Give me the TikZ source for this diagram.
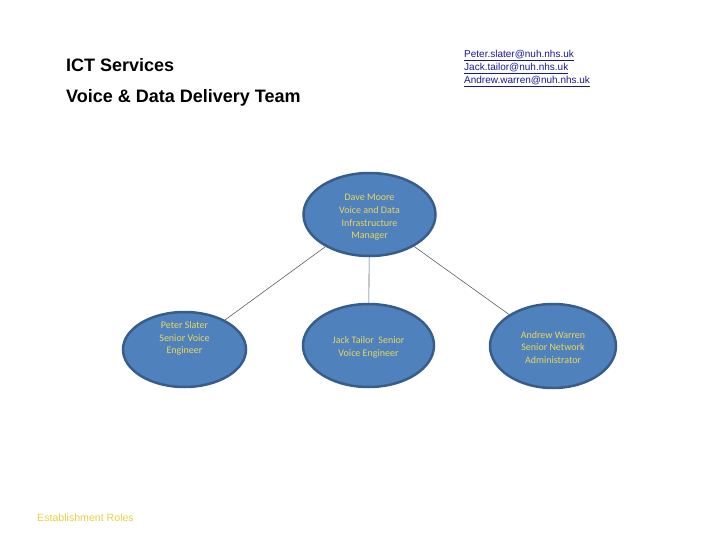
\documentclass[tikz,border=0pt]{standalone}
\usepackage{fontspec}
\setmainfont{Liberation Sans}
\newfontfamily\calib{Carlito}
\usetikzlibrary{shapes.geometric}
\definecolor{ellfill}{RGB}{79,129,189}
\definecolor{elldraw}{RGB}{56,93,138}
\definecolor{elltext}{RGB}{236,214,92}
\definecolor{roles}{RGB}{232,208,70}
\definecolor{mailblue}{RGB}{24,24,150}
\definecolor{conn}{RGB}{85,95,105}
\tikzset{
  role/.style={ellipse, draw=elldraw, fill=ellfill, line width=2.5pt, inner sep=0pt},
  roletext/.style={font=\calib\fontsize{10}{12.7}\selectfont, text=elltext, align=center, inner sep=0pt},
  link/.style={draw=conn, line width=0.6pt},
  head/.style={font=\bfseries\fontsize{18}{20}\selectfont, anchor=west, inner sep=0pt},
  mail/.style={font=\fontsize{10}{11}\selectfont, text=mailblue, anchor=west, inner sep=0pt},
}
\begin{document}
\begin{tikzpicture}[x=1pt,y=-1pt]
\useasboundingbox (0,0) rectangle (720,540);
\node[head] (t1) at (66,65) {ICT Services};
\node[head] (t2) at (66,98) {Voice \& Data Delivery Team};
\node[mail] (m1) at (464,55.5) {\underline{Peter.slater@nuh.nhs.uk}};
\node[mail] (m2) at (464,68.5) {\underline{Jack.tailor@nuh.nhs.uk}};
\node[mail] (m3) at (464,81.5) {\underline{Andrew.warren@nuh.nhs.uk}};

\node[role, minimum width=132pt, minimum height=83pt] (dm) at (369.5,214.5) {};
\node[roletext] (dmt) at (369.5,217.5) {Dave Moore\\Voice and Data\\Infrastructure\\Manager};
\node[role, minimum width=123pt, minimum height=75pt] (ps) at (184.5,349.5) {};
\node[roletext] (pst) at (184.5,338.5) {Peter Slater\\Senior Voice\\Engineer};
\node[role, minimum width=131pt, minimum height=83pt] (jt) at (368.5,345.5) {};
\node[roletext] (jtt) at (368.5,347.5) {Jack Tailor\ \ Senior\\Voice Engineer};
\node[role, minimum width=126pt, minimum height=84pt] (aw) at (553,346) {};
\node[roletext] (awt) at (553,347.5) {Andrew Warren\\Senior Network\\Administrator};

\draw[link] (dm) -- (ps);
\draw[link] (dm) -- (jt);
\draw[link] (dm) -- (aw);

\node[font=\fontsize{10.6}{12}\selectfont, text=roles, anchor=west, inner sep=0pt] (er) at (37,517.5) {Establishment Roles};
\end{tikzpicture}
\end{document}
